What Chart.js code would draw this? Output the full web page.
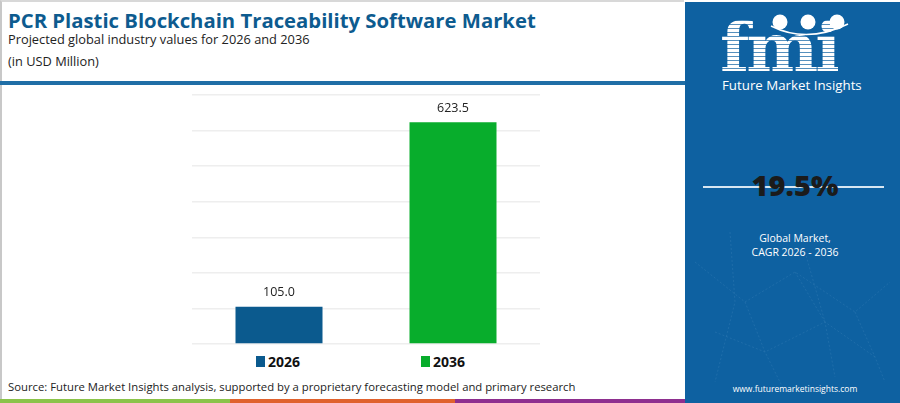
<!DOCTYPE html>
<html>
<head>
<meta charset="utf-8">
<script src="https://cdn.jsdelivr.net/npm/chart.js@4.4.0/dist/chart.umd.min.js"></script>
<style>
    html, body { margin: 0; padding: 0; }
    body { width: 900px; height: 403px; position: relative; overflow: hidden; background: #fff; font-family: 'Open Sans', 'DejaVu Sans', sans-serif; }
    .card { position: absolute; left: 0; top: 0; width: 684px; height: 403px; border-left: 2px solid #c8c8c8; border-top: 2px solid #d8d8d8; box-sizing: border-box; }
    .title { position: absolute; left: 8px; top: 6px; font-size: 20.3px; font-weight: 700; color: #0d5b8f; white-space: nowrap; }
    .sub { position: absolute; left: 8px; top: 30px; font-size: 12.8px; color: #222; white-space: nowrap; }
    .unit { position: absolute; left: 8px; top: 52px; font-size: 12.8px; color: #222; white-space: nowrap; }
    .rule { position: absolute; left: 0; top: 81px; width: 685px; height: 4px; background: #1f6ea6; }
    #chart-wrap { position: absolute; left: 0; top: 88px; width: 685px; height: 262px; }
    .legend { position: absolute; top: 352px; left: 256px; display: flex; gap: 121px; font-weight: 700; font-size: 14px; color: #111; }
    .legend span.item { display: flex; align-items: center; }
    .legend i { display: inline-block; width: 9px; height: 11px; margin-right: 3px; }
    .source { position: absolute; left: 8px; top: 379px; font-size: 11.3px; color: #222; white-space: nowrap; }
    .strip { position: absolute; top: 399px; height: 4px; }
    .panel { position: absolute; left: 685px; top: 2px; width: 215px; height: 401px; background: #0e61a1; overflow: hidden; }
    .panel svg.net { position: absolute; left: 0; top: 0; }
    .logo { position: absolute; left: 35px; top: 11px; font-family: 'DejaVu Serif', serif; font-weight: 700; font-size: 68px; line-height: 68px; letter-spacing: -3px;
        background: repeating-linear-gradient(to bottom, #fff 0 3px, rgba(255,255,255,0.3) 3px 4px); -webkit-background-clip: text; background-clip: text; color: transparent; }
    .brand { position: absolute; left: 37px; top: 74px; font-size: 13.3px; color: #fff; white-space: nowrap; }
    .cagr-line { position: absolute; left: 18px; top: 184px; width: 181px; height: 2px; background: #d7e6f2; }
    .cagr { position: absolute; left: 0; width: 220px; top: 163px; text-align: center; font-size: 29px; font-weight: 800; color: #1b1b1b; }
    .gm { position: absolute; left: 0; width: 220px; top: 229px; text-align: center; font-size: 10.5px; line-height: 14px; color: #fff; }
    .web { position: absolute; left: 0; width: 220px; top: 381px; text-align: center; font-size: 8.5px; color: #fff; }
</style>
</head>
<body>
<div class="card">
</div>
<div class="title">PCR Plastic Blockchain Traceability Software Market</div>
<div class="sub">Projected global industry values for 2026 and 2036</div>
<div class="unit">(in USD Million)</div>
<div class="rule"></div>
<div id="chart-wrap"><canvas id="market-chart"></canvas></div>
<div class="legend" id="legend"></div>
<div class="source">Source: Future Market Insights analysis, supported by a proprietary forecasting model and primary research</div>
<div class="strip" style="left:0;width:230px;background:#8bc34a"></div>
<div class="strip" style="left:230px;width:225px;background:#e0622e"></div>
<div class="strip" style="left:455px;width:230px;background:#8e2f8f"></div>

<div class="panel">
    <svg class="net" width="215" height="401">
        <g stroke="#6aa3cf" stroke-width="0.6" opacity="0.3" fill="none" stroke-dasharray="2 2">
            <path d="M10 260 L60 300 L110 270 L170 310 L205 280"/>
            <path d="M30 330 L80 350 L140 320 L190 355"/>
            <path d="M45 230 L50 300 L30 380"/>
            <path d="M120 250 L140 320 L150 375"/>
            <path d="M60 300 L80 350 L100 390"/>
            <path d="M170 310 L190 355 L200 380"/>
            <path d="M110 270 L140 320"/>
        </g>
    </svg>
    <div class="logo">fmi</div>
    <svg style="position:absolute;left:0;top:0" width="215" height="60">
        <circle cx="95" cy="20" r="7.5" fill="#fff"/>
        <circle cx="123" cy="20" r="7.5" fill="#fff"/>
        <circle cx="152" cy="20" r="7.5" fill="#fff"/>
        <path d="M86 24 Q122 42 163 22" stroke="#fff" stroke-width="1.5" fill="none"/>
    </svg>
    <div class="brand">Future Market Insights</div>
    <div class="cagr-line"></div>
    <div class="cagr">19.5%</div>
    <div class="gm">Global Market,<br>CAGR 2026 - 2036</div>
    <div class="web">www.futuremarketinsights.com</div>
</div>

<script>
    // chart data
    const years = ['2026', '2036'];
    const marketValues = [105.0, 623.5];
    const yTicks = [0, 100, 200, 300, 400, 500, 600, 700];
    const barColors = ['#0b5a8e', '#08ad2c'];

    // value labels above bars
    const valueLabels = {
        id: 'valueLabels',
        afterDatasetsDraw(chart) {
            const { ctx } = chart;
            const meta = chart.getDatasetMeta(0);
            ctx.save();
            ctx.font = '12.5px "Open Sans", sans-serif';
            ctx.fillStyle = '#222';
            ctx.textAlign = 'center';
            ctx.textBaseline = 'middle';
            meta.data.forEach((bar, i) => {
                ctx.fillText(marketValues[i].toFixed(1), bar.x, bar.y - 14);
            });
            ctx.restore();
        }
    };

    const ctx = document.getElementById('market-chart').getContext('2d');
    const chart = new Chart(ctx, {
        type: 'bar',
        data: {
            labels: years,
            datasets: [{
                data: marketValues,
                backgroundColor: barColors,
                borderWidth: 0,
                barPercentage: 0.5,
                categoryPercentage: 1
            }]
        },
        options: {
            responsive: true,
            maintainAspectRatio: false,
            animation: false,
            layout: { padding: { left: 192, right: 145, top: 7, bottom: 6 } },
            plugins: {
                legend: { display: false },
                tooltip: { enabled: false }
            },
            scales: {
                x: { display: false },
                y: {
                    min: yTicks[0],
                    max: yTicks[yTicks.length - 1],
                    afterBuildTicks: axis => { axis.ticks = yTicks.map(v => ({ value: v })); },
                    ticks: { display: false },
                    border: { display: false },
                    grid: { color: '#eeeeee', lineWidth: 1.5, drawTicks: false }
                }
            }
        },
        plugins: [valueLabels]
    });

    // legend built from the same arrays
    document.getElementById('legend').innerHTML = years.map((y, i) =>
        `<span class="item"><i style="background:${barColors[i]}"></i>${y}</span>`
    ).join('');
</script>
</body>
</html>
